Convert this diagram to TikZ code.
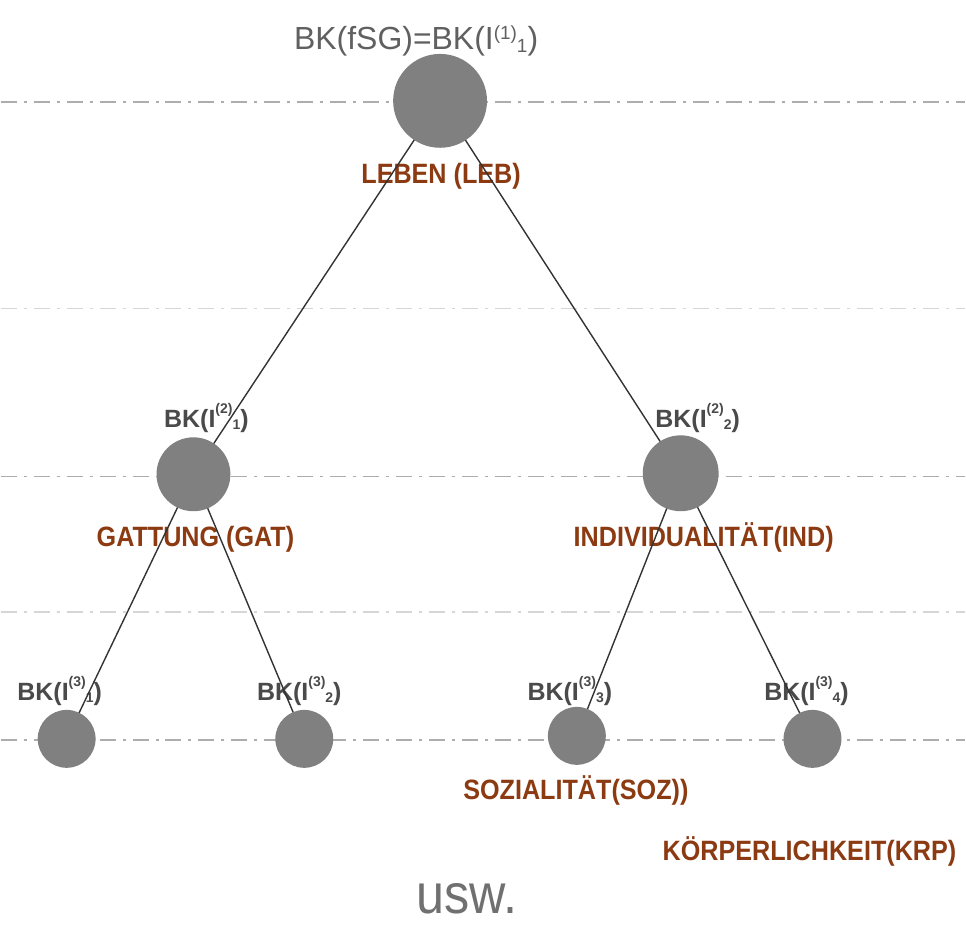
\documentclass[tikz,border=0pt]{standalone}
\usepackage{fontspec}
\setmainfont{Liberation Sans}
\newfontfamily\lblfont[FakeStretch=0.9]{Liberation Sans}
\usetikzlibrary{backgrounds}

\definecolor{discgray}{HTML}{808080}
\definecolor{labelbrown}{HTML}{8C3A12}
\definecolor{idxgray}{HTML}{4A4A4A}
\definecolor{topgray}{HTML}{606060}
\definecolor{uswgray}{HTML}{707070}
\definecolor{levelline}{HTML}{ADADAD}
\definecolor{midline}{HTML}{D6D6D6}
\definecolor{connline}{HTML}{333333}

% BK(I^{(level)}_{index}) with the index set after the raised level
\newcommand\bkidx[2]{BK(I\raisebox{14pt}{\fontsize{14}{14}\selectfont(#1)}\raisebox{-2pt}{\fontsize{14}{14}\selectfont#2})}

\pgfdeclarelayer{paper}
\pgfdeclarelayer{connlayer}
\pgfsetlayers{paper,background,connlayer,main}

\tikzset{
  disc/.style={circle, fill=discgray, draw=none, inner sep=0pt, minimum size=#1},
  levelrule/.style={levelline, line width=1.5pt, dash pattern=on 16pt off 7pt on 3pt off 7pt},
  midrule/.style={midline, line width=1.5pt, dash pattern=on 16pt off 7pt on 3pt off 7pt},
  conn/.style={connline, line width=1.4pt},
  concept/.style={anchor=base, inner sep=0pt, text=labelbrown, font=\lblfont\bfseries\fontsize{28}{30}\selectfont},
  idxlabel/.style={anchor=base, inner sep=0pt, text=idxgray, font=\bfseries\fontsize{25}{27}\selectfont},
}

\begin{document}
\begin{tikzpicture}[x=1pt, y=-1pt]
\begin{pgfonlayer}{paper}
  \path[use as bounding box, fill=white] (0,0) rectangle (966,929);
\end{pgfonlayer}

% discs of the tree
\node[disc=94pt] (root) at (440,101) {};
\node[disc=74pt] (gat)  at (193,475) {};
\node[disc=76pt] (ind)  at (681,474) {};
\node[disc=58pt] (b31)  at (66,740) {};
\node[disc=58pt] (b32)  at (304,740) {};
\node[disc=58pt] (b33)  at (577,737) {};
\node[disc=58pt] (b34)  at (813,740) {};

% level rules and labels behind everything else
\begin{pgfonlayer}{background}
  \coordinate (r1a) at (0,102);  \coordinate (r1b) at (966,102);
  \coordinate (r2a) at (0,309);  \coordinate (r2b) at (966,309);
  \coordinate (r3a) at (0,477);  \coordinate (r3b) at (966,477);
  \coordinate (r4a) at (0,613);  \coordinate (r4b) at (966,613);
  \coordinate (r5a) at (0,741);  \coordinate (r5b) at (966,741);
  \draw[levelrule] (r1a) -- (r1b);
  \draw[midrule]   (r2a) -- (r2b);
  \draw[levelrule] (r3a) -- (r3b);
  \draw[midrule]   (r4a) -- (r4b);
  \draw[levelrule] (r5a) -- (r5b);

  \node[anchor=base, inner sep=0pt, text=topgray, font=\fontsize{32}{34}\selectfont] (toplbl) at (416,50)
    {BK(fSG)=BK(I\raisebox{10pt}{\fontsize{19}{19}\selectfont(1)}\raisebox{-3pt}{\fontsize{19}{19}\selectfont1})};

  \node[concept] (leb) at (441,184) {LEBEN (LEB)};
  \node[concept] (gatl) at (195,547) {GATTUNG (GAT)};
  \node[concept] (indl) at (704,547) {INDIVIDUALITÄT(IND)};
  \node[concept] (soz) at (576,801) {SOZIALITÄT(SOZ))};
  \node[concept] (krp) at (810,862) {KÖRPERLICHKEIT(KRP)};

  \node[idxlabel] (bk21) at (206,428) {\bkidx{2}{1}};
  \node[idxlabel] (bk22) at (698,428) {\bkidx{2}{2}};
  \node[idxlabel] (bk31) at (59,702)  {\bkidx{3}{1}};
  \node[idxlabel] (bk32) at (299,702) {\bkidx{3}{2}};
  \node[idxlabel] (bk33) at (570,702) {\bkidx{3}{3}};
  \node[idxlabel] (bk34) at (807,702) {\bkidx{3}{4}};

  \node[anchor=base, inner sep=0pt, text depth=0pt, text=uswgray, font=\lblfont\fontsize{56}{58}\selectfont] (usw) at (467,915) {usw.};
\end{pgfonlayer}

% edges of the tree, over the labels and under the discs
\begin{pgfonlayer}{connlayer}
  \draw[conn] (root.center) -- (gat.center);
  \draw[conn] (root.center) -- (ind.center);
  \draw[conn] (gat.center) -- (b31.center);
  \draw[conn] (gat.center) -- (b32.center);
  \draw[conn] (ind.center) -- (b33.center);
  \draw[conn] (ind.center) -- (b34.center);
\end{pgfonlayer}
\end{tikzpicture}
\end{document}
